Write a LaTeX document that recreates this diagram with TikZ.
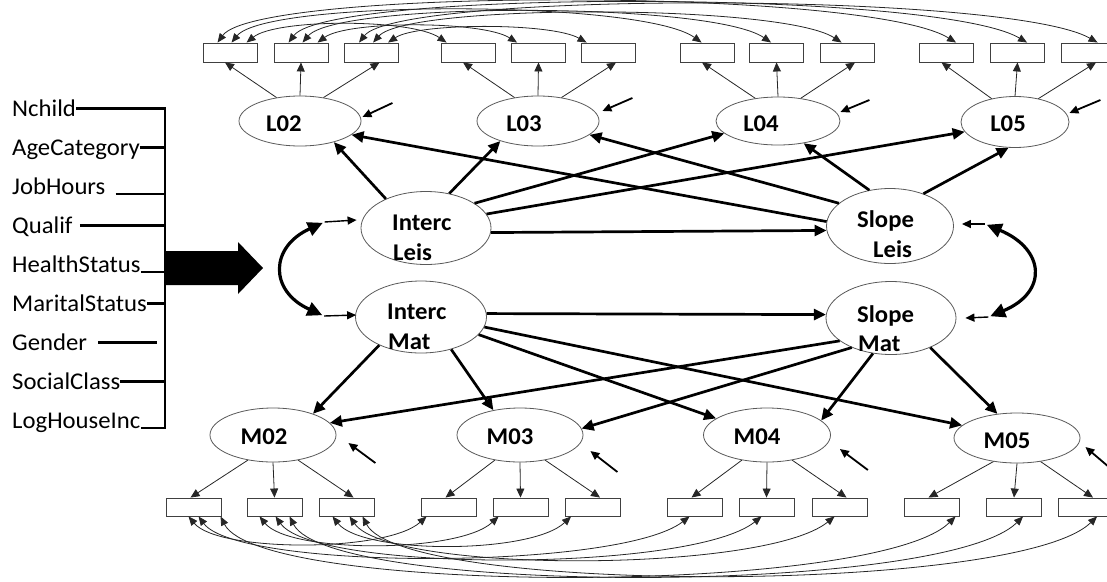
\documentclass[tikz,border=0pt]{standalone}
\usepackage{fontspec}
\setmainfont[FakeStretch=1.03]{Carlito}
\usetikzlibrary{arrows.meta,shapes.geometric,calc}

\begin{document}
\begin{tikzpicture}[x=1pt,y=-1pt,
  latent/.style={ellipse, draw=black!65, line width=0.8pt, inner sep=0pt},
  indic/.style={rectangle, draw=black!75, line width=0.9pt, minimum width=54pt, minimum height=19pt, inner sep=0pt},
  latname/.style={font=\fontsize{24}{28}\selectfont\bfseries, inner sep=0pt},
  growthname/.style={font=\fontsize{24}{28}\selectfont\bfseries, inner sep=0pt, anchor=base west},
  covname/.style={font=\fontsize{24}{28}\selectfont, inner sep=0pt, anchor=base west, text height=15pt, text depth=0pt},
  loadarrow/.style={line width=0.8pt, draw=black!85, -{Triangle[length=9pt,width=8pt]}},
  regarrow/.style={line width=2.7pt, -{Triangle[length=12pt,width=11pt]}},
  errarrow/.style={line width=1.8pt, -{Triangle[length=9pt,width=8pt]}},
  residarc/.style={line width=0.8pt, draw=black!85, {Triangle[length=9pt,width=7.5pt]}-{Triangle[length=9pt,width=7.5pt]}},
  covarc/.style={line width=3.2pt, {Triangle[length=15pt,width=14pt]}-{Triangle[length=15pt,width=14pt]}},
  barline/.style={line width=2.3pt},
]
\useasboundingbox (0,0) rectangle (1107,581);

% ---------- covariates ----------
\node[covname] (vNchild) at (12,116) {Nchild};
\node[covname] (vAge)    at (12,155) {AgeCategory};
\node[covname] (vJob)    at (12,194) {JobHours};
\node[covname] (vQual)   at (12,233) {Qualif};
\node[covname] (vHealth) at (12,272) {HealthStatus};
\node[covname] (vMar)    at (12,311) {MaritalStatus};
\node[covname] (vGen)    at (12,350) {Gender};
\node[covname] (vSoc)    at (12,389) {SocialClass};
\node[covname] (vLog)    at (12,428) {LogHouseInc};
\coordinate (barx) at (165,270);

\draw[barline] (vNchild.east) -- (vNchild.east -| barx) -- (vLog.south east -| barx) -- (vLog.south east);
\draw[barline] (vAge.east) -- (vAge.east -| barx);
\draw[barline] ([xshift=10pt]vJob.south east) -- (vJob.south east -| barx);
\draw[barline] ([xshift=7pt]vQual.east) -- (vQual.east -| barx);
\draw[barline] (vHealth.south east) -- (vHealth.south east -| barx);
\draw[barline] (vMar.east) -- (vMar.east -| barx);
\draw[barline] ([xshift=11pt]vGen.east) -- ([xshift=-8pt]vGen.east -| barx);
\draw[barline] (vSoc.east) -- (vSoc.east -| barx);

% block arrow into the growth factors
\fill (165,251) -- (238,251) -- (238,242) -- (263,268) -- (238,294) -- (238,285) -- (165,285) -- cycle;

% ---------- leisure indicators ----------
\foreach \n/\x in {A1/230,A2/301,A3/371.5,B1/468,B2/538.5,B3/608,C1/707,C2/776.5,C3/847,D1/946.5,D2/1017.5,D3/1088}
  \node[indic] (\n) at (\x,52.5) {};

% ---------- maths indicators ----------
\foreach \n/\x in {P1/193.5,P2/274.5,P3/346.5,Q1/448.5,Q2/520.5,Q3/593,R1/694.5,R2/766.5,R3/839.5,S1/931.5,S2/1014,S3/1086}
  \node[indic, minimum width=55pt, minimum height=18pt] (\n) at (\x,507) {};

% ---------- latent occasions ----------
\node[latent, minimum width=122pt, minimum height=50pt] (L02) at (300,121) {};
\node[latent, minimum width=122pt, minimum height=50pt] (L03) at (538,121) {};
\node[latent, minimum width=124pt, minimum height=48pt] (L04) at (778,121) {};
\node[latent, minimum width=108pt, minimum height=51pt] (L05) at (1015,122) {};
\node[latname] (tL02) at (284,124) {L02};
\node[latname] (tL03) at (524,124) {L03};
\node[latname] (tL04) at (761,124) {L04};
\node[latname] (tL05) at (1008,124) {L05};

\node[latent, minimum width=126pt, minimum height=54pt] (M02) at (273,435) {};
\node[latent, minimum width=126pt, minimum height=54pt] (M03) at (520,435) {};
\node[latent, minimum width=127pt, minimum height=54pt] (M04) at (767,435) {};
\node[latent, minimum width=126pt, minimum height=50pt] (M05) at (1017,438) {};
\node[latname] (tM02) at (264,437) {M02};
\node[latname] (tM03) at (510,437) {M03};
\node[latname] (tM04) at (757,437) {M04};
\node[latname] (tM05) at (1007,441) {M05};

% ---------- growth factors ----------
\node[latent, minimum width=130pt, minimum height=73pt] (IL) at (426,228) {};
\node[latent, minimum width=131pt, minimum height=72pt] (IM) at (421,317) {};
\node[latent, minimum width=127pt, minimum height=75pt] (SL) at (890,226) {};
\node[latent, minimum width=130pt, minimum height=73pt] (SM) at (891,318) {};
\node[growthname] (tILa) at (392,230) {Interc};
\node[growthname] (tILb) at (393,260) {Leis};
\node[growthname] (tIMa) at (387,319) {Interc};
\node[growthname] (tIMb) at (388,349) {Mat};
\node[growthname] (tSLa) at (857,227) {Slope};
\node[growthname] (tSLb) at (873,257) {Leis};
\node[growthname] (tSMa) at (857,322) {Slope};
\node[growthname] (tSMb) at (858,351) {Mat};

% ---------- loadings ----------
\foreach \l/\a/\b/\c in {L02/A1/A2/A3, L03/B1/B2/B3, L04/C1/C2/C3, L05/D1/D2/D3}{
  \draw[loadarrow] (\l.135) -- ([xshift=-5pt]\a.south);
  \draw[loadarrow] (\l.north) -- (\b.south);
  \draw[loadarrow] (\l.45) -- ([xshift=8pt]\c.south);
}
\foreach \m/\a/\b/\c in {M02/P1/P2/P3, M03/Q1/Q2/Q3, M04/R1/R2/R3, M05/S1/S2/S3}{
  \draw[loadarrow] (\m.225) -- ([xshift=-3pt]\a.north);
  \draw[loadarrow] (\m.south) -- (\b.north);
  \draw[loadarrow] (\m.315) -- ([xshift=7pt]\c.north);
}

% ---------- correlated residuals, leisure ----------
\foreach \s/\b/\c/\d/\h in {A1/B1/C1/D1/0, A2/B2/C2/D2/2, A3/B3/C3/D3/4}{
  \draw[residarc] ([xshift=44pt]\s.north west) .. controls +(30,-24+\h) and +(-35,-24+\h) .. ([xshift=6pt]\b.north west);
  \draw[residarc] ([xshift=29pt]\s.north west) .. controls +(35,-43+\h) and +(-60,-43+\h) .. ([xshift=22pt]\c.north west);
  \draw[residarc] ([xshift=15pt]\s.north west) .. controls +(40,-55+\h) and +(-90,-55+\h) .. ([xshift=37pt]\d.north west);
}

% ---------- correlated residuals, maths ----------
\draw[residarc] ([xshift=23pt]P1.south west) .. controls +(30,36) and +(-40,36) .. ([xshift=6pt]Q1.south west);
\draw[residarc] ([xshift=33pt]P1.south west) .. controls +(40,54) and +(-70,54) .. ([xshift=23pt]R1.south west);
\draw[residarc] ([xshift=55pt]P1.south west) .. controls +(40,79) and +(-80,79) .. ([xshift=52pt]S1.south west);
\draw[residarc] ([xshift=13pt]P2.south west) .. controls +(30,37) and +(-40,37) .. ([xshift=6pt]Q2.south west);
\draw[residarc] ([xshift=29pt]P2.south west) .. controls +(40,56) and +(-70,56) .. ([xshift=23pt]R2.south west);
\draw[residarc] ([xshift=43pt]P2.south west) .. controls +(40,79) and +(-80,79) .. ([xshift=37pt]S2.south west);
\draw[residarc] ([xshift=14pt]P3.south west) .. controls +(30,38) and +(-40,38) .. ([xshift=6pt]Q3.south west);
\draw[residarc] ([xshift=31pt]P3.south west) .. controls +(40,57) and +(-70,57) .. ([xshift=23pt]R3.south west);
\draw[residarc] ([xshift=44pt]P3.south west) .. controls +(40,78) and +(-80,78) .. ([xshift=39pt]S3.south west);

% ---------- structural paths ----------
\draw[regarrow] (IL.144) -- (L02.-32);
\draw[regarrow] (IL.56)  -- (L03.208);
\draw[regarrow] (IL.27)  -- (L04.193);
\draw[regarrow] (IL.13)  -- (L05.191);
\draw[regarrow] (SL.176) -- (L02.-15);
\draw[regarrow] (SL.156) -- (L03.-15);
\draw[regarrow] (SL.120) -- (L04.-41);
\draw[regarrow] (SL.44)  -- (L05.256);
\draw[regarrow] (IL.-4)  -- (SL.184);
\draw[regarrow] (IM.3)   -- (SM.177);
\draw[regarrow] (IM.214) -- (M02.28);
\draw[regarrow] (IM.-47) -- (M03.137);
\draw[regarrow] (IM.-17) -- (M04.162);
\draw[regarrow] (IM.-9)  -- (M05.167);
\draw[regarrow] (SM.204) -- (M02.12);
\draw[regarrow] (SM.217) -- (M03.6);
\draw[regarrow] (SM.243) -- (M04.15);
\draw[regarrow] (SM.-37) -- (M05.129);

% ---------- disturbances ----------
\foreach \l/\sx/\sy/\tx/\ty in {L02/31/-18/1/-4, L03/33/-23/3/-10, L04/29/-21/0/-9, L05/31/-22/0/-9,
                                M02/39/28/12/8, M03/34/37/7/16, M04/37/35/9/14, M05/32/32/5/9}{
  \coordinate (e\l a) at ($(\l.east)+(\sx,\sy)$);
  \coordinate (e\l b) at ($(\l.east)+(\tx,\ty)$);
  \draw[errarrow] (e\l a) -- (e\l b);
}
\coordinate (eILa) at ($(IL.west)+(-36,-6)$);
\coordinate (eILb) at ($(IL.west)+(-4,-8)$);
\coordinate (eIMa) at ($(IM.west)+(-31,-1)$);
\coordinate (eIMb) at ($(IM.west)+(1,-2)$);
\coordinate (eSLa) at ($(SL.east)+(31,-2)$);
\coordinate (eSLb) at ($(SL.east)+(8,-2)$);
\coordinate (eSMa) at ($(SM.east)+(32,-1)$);
\coordinate (eSMb) at ($(SM.east)+(9,0)$);
\draw[errarrow, line width=1.4pt] (eILa) -- (eILb);
\draw[errarrow, line width=1.4pt] (eIMa) -- (eIMb);
\draw[errarrow, line width=1.4pt] (eSLa) -- (eSLb);
\draw[errarrow, line width=1.4pt] (eSMa) -- (eSMb);

% covariances between the growth factors
\draw[covarc, shorten <=2pt, shorten >=2pt] (eILa) .. controls +(-55,25) and +(-55,-25) .. (eIMa);
\draw[covarc, shorten <=2pt, shorten >=2pt] (eSLa) .. controls +(60,25) and +(60,-25) .. (eSMa);
\end{tikzpicture}
\end{document}
